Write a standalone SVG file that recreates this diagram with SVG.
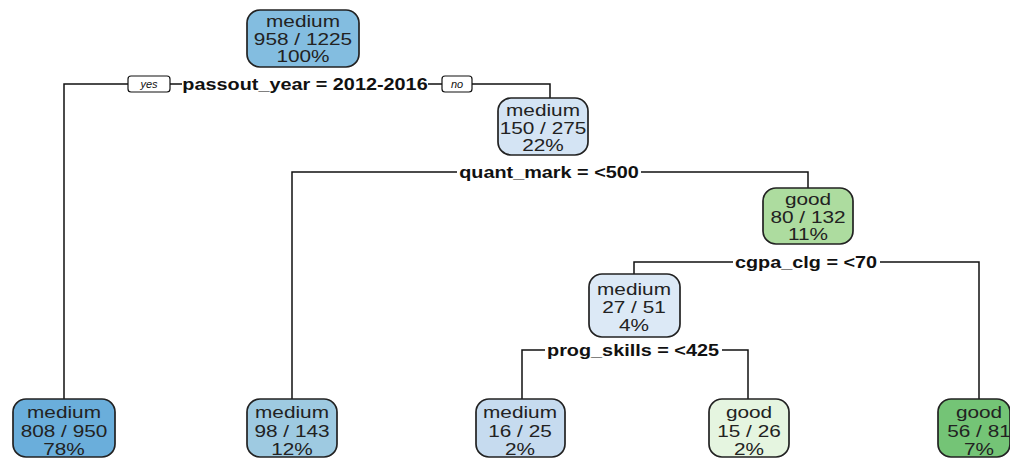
<svg xmlns="http://www.w3.org/2000/svg" width="1010" height="458" viewBox="0 0 1010 458">
<style>
.bx{stroke:#222;stroke-width:1.7}
.t{font-family:"Liberation Sans",Arial,sans-serif;font-size:16px;fill:#222;text-anchor:middle}
.s{font-family:"Liberation Sans",Arial,sans-serif;font-size:16px;font-weight:bold;fill:#111;text-anchor:middle}
.yn{font-family:"Liberation Sans",Arial,sans-serif;font-size:11px;font-style:italic;fill:#111;text-anchor:middle}
.c{fill:none;stroke:#111;stroke-width:1.5}
</style>
<rect width="1010" height="458" fill="#fff"/>
<g id="connectors">
<path class="c" d="M64,399 V84 H128 M170,84 H182 M428,84 H442 M472,84 H550 V98"/>
<path class="c" d="M292,399 V172 H457 M641,172 H808 V188"/>
<path class="c" d="M634,274 V262 H733 M880,262 H979 V399"/>
<path class="c" d="M522,399 V350 H545 M722,350 H748 V399"/>
<rect x="128" y="76" width="42" height="16" rx="3" fill="#fff" stroke="#111" stroke-width="1.2"/>
<text class="yn" x="149" y="88">yes</text>
<rect x="442" y="76" width="30" height="16" rx="3" fill="#fff" stroke="#111" stroke-width="1.2"/>
<text class="yn" x="457" y="88">no</text>
<text class="s" transform="translate(305 0) scale(1.24 1)" y="90">passout_year = 2012-2016</text>
<text class="s" transform="translate(549 0) scale(1.24 1)" y="178">quant_mark = &lt;500</text>
<text class="s" transform="translate(806 0) scale(1.24 1)" y="268">cgpa_clg = &lt;70</text>
<text class="s" transform="translate(633 0) scale(1.24 1)" y="356">prog_skills = &lt;425</text>
</g>
<g id="root">
<rect class="bx" x="247" y="10" width="112" height="57" rx="13" fill="#83BDE0"/>
<text class="t" transform="translate(303 0) scale(1.3 1)" y="27">medium</text>
<text class="t" transform="translate(303 0) scale(1.3 1)" y="45">958 / 1225</text>
<text class="t" transform="translate(303 0) scale(1.3 1)" y="62">100%</text>
</g>
<g id="n2">
<rect class="bx" x="498" y="98" width="90" height="57" rx="13" fill="#D4E4F4"/>
<text class="t" transform="translate(543 0) scale(1.3 1)" y="116">medium</text>
<text class="t" transform="translate(543 0) scale(1.3 1)" y="134">150 / 275</text>
<text class="t" transform="translate(543 0) scale(1.3 1)" y="151">22%</text>
</g>
<g id="n3">
<rect class="bx" x="763" y="188" width="90" height="56" rx="13" fill="#ADDC9F"/>
<text class="t" transform="translate(808 0) scale(1.3 1)" y="205">good</text>
<text class="t" transform="translate(808 0) scale(1.3 1)" y="223">80 / 132</text>
<text class="t" transform="translate(808 0) scale(1.3 1)" y="240">11%</text>
</g>
<g id="n4">
<rect class="bx" x="589" y="274" width="91" height="63" rx="13" fill="#DCE9F6"/>
<text class="t" transform="translate(634 0) scale(1.3 1)" y="295">medium</text>
<text class="t" transform="translate(634 0) scale(1.3 1)" y="313">27 / 51</text>
<text class="t" transform="translate(634 0) scale(1.3 1)" y="331">4%</text>
</g>
<g id="leaf1">
<rect class="bx" x="13" y="399" width="102" height="58" rx="13" fill="#6AAEDB"/>
<text class="t" transform="translate(64 0) scale(1.3 1)" y="418">medium</text>
<text class="t" transform="translate(64 0) scale(1.3 1)" y="437">808 / 950</text>
<text class="t" transform="translate(64 0) scale(1.3 1)" y="455">78%</text>
</g>
<g id="leaf2">
<rect class="bx" x="247" y="399" width="90" height="58" rx="13" fill="#9ECAE1"/>
<text class="t" transform="translate(292 0) scale(1.3 1)" y="418">medium</text>
<text class="t" transform="translate(292 0) scale(1.3 1)" y="437">98 / 143</text>
<text class="t" transform="translate(292 0) scale(1.3 1)" y="455">12%</text>
</g>
<g id="leaf3">
<rect class="bx" x="476" y="399" width="89" height="58" rx="13" fill="#C6DBEF"/>
<text class="t" transform="translate(520 0) scale(1.3 1)" y="418">medium</text>
<text class="t" transform="translate(520 0) scale(1.3 1)" y="437">16 / 25</text>
<text class="t" transform="translate(520 0) scale(1.3 1)" y="455">2%</text>
</g>
<g id="leaf4">
<rect class="bx" x="709" y="399" width="80" height="58" rx="13" fill="#E5F5E0"/>
<text class="t" transform="translate(749 0) scale(1.3 1)" y="418">good</text>
<text class="t" transform="translate(749 0) scale(1.3 1)" y="437">15 / 26</text>
<text class="t" transform="translate(749 0) scale(1.3 1)" y="455">2%</text>
</g>
<g id="leaf5">
<rect class="bx" x="938" y="399" width="72" height="58" rx="13" fill="#74C476"/>
<text class="t" transform="translate(979 0) scale(1.3 1)" y="418">good</text>
<text class="t" transform="translate(979 0) scale(1.3 1)" y="437">56 / 81</text>
<text class="t" transform="translate(979 0) scale(1.3 1)" y="455">7%</text>
</g>
</svg>
